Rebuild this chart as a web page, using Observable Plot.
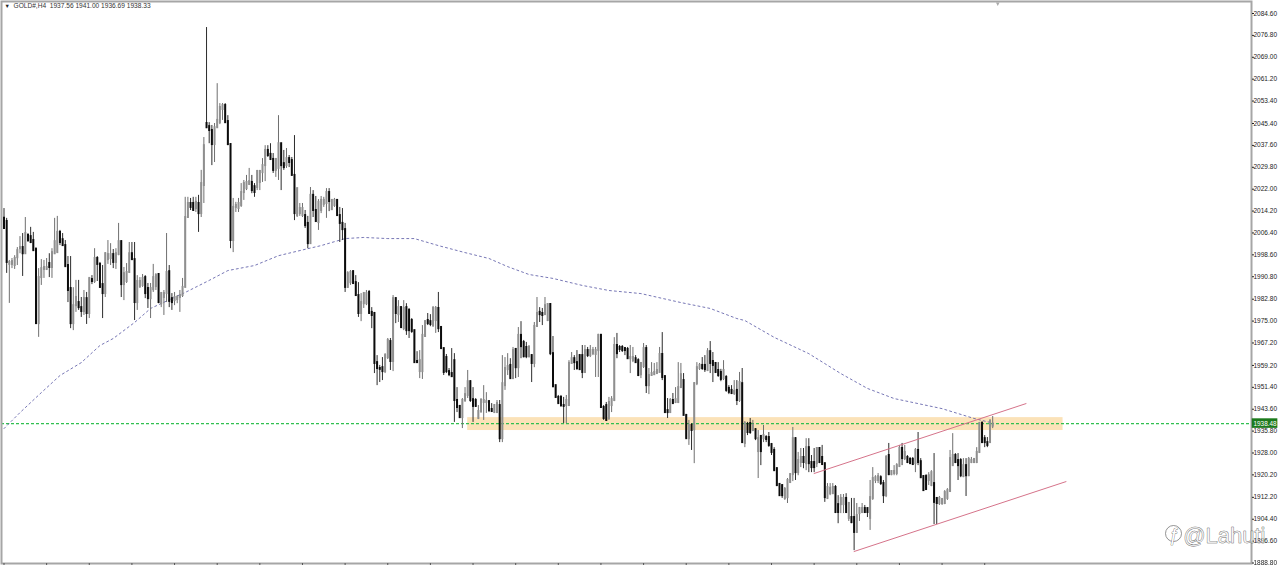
<!DOCTYPE html>
<html>
<head>
<meta charset="utf-8">
<style>html,body{margin:0;padding:0;background:#fff;overflow:hidden}svg{display:block;filter:blur(0.3px)}</style>
<script src="https://cdn.jsdelivr.net/npm/d3@7"></script>
<script src="https://cdn.jsdelivr.net/npm/@observablehq/plot@0.6"></script>
</head>
<body>
<div id="chart"></div>
<script>
const opens = [
2011.6,2010.5,1995.2,1995.2,1994.8,1997.6,2000.8,2001.2,1999.0,2005.5,
2005.1,2003.7,2000.5,1974.1,1990.5,1993.4,1993.4,1995.5,1994.1,1999.0,
1999.4,2006.6,2004.0,2001.9,1994.8,1986.6,1974.1,1980.5,1981.6,1979.8,
1978.4,1983.0,1977.7,1989.8,1989.1,1997.3,1995.2,1988.0,1984.8,1996.9,
1997.3,1998.7,1995.9,1998.7,2003.3,1988.0,1989.1,1992.3,1999.0,1996.9,
1981.6,1987.3,1987.7,1990.5,1986.6,1983.0,1986.2,1987.3,1991.6,1981.2,
1983.4,1984.8,1992.6,1983.0,1982.3,1982.7,1983.4,1984.1,1987.0,2011.9,
2016.9,2016.9,2015.1,2016.9,2013.3,2023.3,2045.4,2044.3,2042.9,2037.9,
2043.9,2045.7,2050.4,2051.8,2046.1,2037.9,2003.7,2015.5,2015.1,2016.2,
2020.8,2022.2,2023.7,2024.4,2022.9,2022.6,2024.4,2027.9,2030.4,2035.8,
2034.4,2032.6,2028.7,2029.4,2038.2,2031.1,2030.4,2032.9,2032.2,2026.9,
2012.6,2013.3,2012.6,2012.6,2009.8,2002.6,2019.8,2014.4,2010.1,2014.4,
2016.6,2016.9,2020.8,2014.7,2016.2,2018.0,2012.6,2009.8,2007.6,1987.0,
1988.7,1992.6,1988.7,1984.1,1977.7,1981.2,1981.2,1985.2,1978.1,1977.7,
1960.2,1958.1,1958.4,1957.0,1962.0,1967.7,1960.6,1983.0,1977.3,1979.8,
1972.3,1979.8,1978.8,1975.2,1971.6,1960.6,1957.0,1957.0,1969.5,1975.2,
1974.8,1973.4,1975.2,1979.5,1972.7,1965.2,1962.0,1957.0,1956.3,1960.9,
1946.7,1944.6,1940.6,1946.7,1948.5,1953.4,1947.0,1946.7,1940.3,1942.8,
1946.0,1946.0,1946.3,1943.5,1942.4,1942.4,1944.9,1933.1,1952.0,1957.7,
1959.2,1954.5,1964.9,1958.4,1969.9,1967.4,1965.6,1962.3,1962.7,1959.9,
1973.1,1978.1,1977.7,1977.3,1975.2,1980.9,1963.4,1952.0,1947.8,1947.8,
1944.9,1944.9,1944.9,1959.9,1961.6,1960.2,1962.7,1962.7,1956.7,1964.5,
1962.7,1963.4,1963.1,1964.5,1969.9,1944.2,1944.9,1940.3,1944.9,1946.7,
1966.3,1965.6,1965.6,1965.2,1964.9,1961.6,1960.9,1961.6,1960.9,1955.9,
1958.8,1965.2,1952.0,1955.6,1955.9,1956.3,1956.7,1963.1,1955.2,1943.1,
1942.4,1946.7,1946.0,1946.0,1951.3,1953.8,1941.4,1933.1,1937.8,1936.3,
1952.7,1958.1,1959.2,1959.2,1957.4,1964.1,1960.6,1959.9,1957.4,1956.7,
1954.5,1954.9,1951.0,1950.3,1949.2,1950.3,1946.7,1952.7,1931.4,1938.2,
1938.5,1936.0,1936.3,1928.5,1933.9,1933.1,1933.5,1933.5,1931.0,1928.9,
1922.4,1916.8,1916.4,1911.8,1912.1,1917.5,1920.3,1933.1,1921.0,1924.6,
1926.4,1924.2,1929.9,1924.6,1924.6,1924.2,1929.6,1926.4,1924.2,1911.8,
1913.5,1913.5,1915.7,1909.6,1909.6,1909.6,1911.8,1904.7,1905.0,1905.0,
1899.7,1906.4,1906.8,1908.2,1908.2,1904.7,1911.8,1918.2,1918.2,1919.2,
1917.1,1912.8,1927.1,1920.3,1920.7,1920.7,1923.2,1929.6,1926.0,1926.4,
1925.7,1925.7,1924.2,1928.9,1924.9,1919.6,1919.6,1918.2,1916.4,1917.1,
1911.8,1910.0,1910.0,1910.0,1911.8,1914.3,1923.5,1927.1,1925.3,1925.3,
1919.6,1923.5,1919.9,1924.6,1924.6,1924.6,1928.2,1938.5,1933.1,1931.7,
1931.7,1937.56];
const highs = [
2015.1,2011.6,1996.6,1997.3,1998.3,2001.2,2005.1,2006.2,2011.9,2006.2,
2008.4,2006.6,2001.2,1993.7,1996.9,1996.6,1997.3,1999.0,2000.8,2011.6,
2012.3,2007.3,2006.2,2003.7,1998.0,1998.0,1986.9,1989.5,1989.5,1983.4,
1985.9,1985.2,1990.2,1991.2,2000.8,1998.0,1995.9,1994.8,1999.4,2003.7,
2002.6,2000.5,2000.8,2009.8,2003.7,1994.1,1995.5,2003.0,2003.0,2003.0,
1991.2,1990.5,1991.6,1991.2,1988.4,1988.4,1995.2,1991.9,1991.9,1985.2,
1985.9,2006.2,1994.8,1984.8,1985.2,1984.1,1985.9,1990.2,2019.1,2019.1,
2018.7,2019.1,2019.1,2019.8,2028.7,2040.4,2079.6,2045.7,2044.7,2045.4,
2059.6,2052.5,2052.5,2052.5,2048.2,2038.2,2018.7,2017.3,2018.7,2024.0,
2025.1,2026.9,2029.4,2026.9,2024.0,2028.7,2028.7,2032.9,2037.5,2037.5,
2038.2,2034.7,2032.9,2048.2,2038.2,2035.8,2036.5,2034.0,2033.3,2041.1,
2022.2,2016.9,2016.9,2014.4,2012.3,2022.6,2021.5,2019.4,2018.3,2019.4,
2019.1,2022.2,2022.2,2018.3,2018.7,2018.3,2015.5,2015.1,2009.8,1992.6,
1993.0,1993.0,1991.2,1988.7,1984.8,1985.2,1985.9,1985.9,1979.8,1978.1,
1962.7,1959.2,1962.0,1963.4,1968.8,1968.8,1984.1,1983.4,1982.3,1980.2,
1982.3,1981.2,1979.5,1975.9,1971.6,1964.1,1964.5,1973.4,1975.2,1977.7,
1977.3,1980.2,1980.2,1985.2,1973.1,1965.2,1963.1,1958.1,1965.2,1963.4,
1951.3,1944.9,1947.4,1951.3,1957.4,1953.8,1951.3,1947.4,1944.9,1947.4,
1952.0,1949.5,1946.7,1945.6,1945.2,1946.7,1946.7,1962.7,1962.0,1963.4,
1961.6,1965.6,1965.2,1972.7,1974.8,1968.1,1967.4,1966.3,1963.1,1974.5,
1983.4,1979.8,1979.5,1983.4,1980.9,1981.2,1969.5,1952.0,1948.5,1948.5,
1947.8,1948.5,1960.9,1963.8,1962.7,1964.5,1963.1,1966.3,1966.3,1965.6,
1966.3,1965.6,1965.6,1970.3,1970.3,1944.9,1946.0,1947.8,1948.1,1969.1,
1970.6,1966.3,1966.3,1965.6,1965.6,1966.3,1965.6,1962.7,1961.6,1960.2,
1967.0,1966.3,1958.1,1960.2,1959.9,1960.2,1965.6,1970.9,1955.6,1947.4,
1947.4,1949.2,1951.3,1960.2,1959.9,1956.3,1941.4,1939.6,1938.5,1953.1,
1960.2,1959.9,1962.0,1962.7,1965.2,1967.7,1963.8,1960.2,1960.2,1957.8,
1960.9,1955.6,1952.0,1952.0,1953.8,1953.8,1956.7,1958.1,1939.2,1938.9,
1940.3,1939.6,1936.7,1936.0,1934.2,1937.8,1934.2,1935.3,1931.4,1929.9,
1922.8,1917.1,1916.4,1915.7,1918.9,1920.7,1937.1,1933.5,1928.2,1929.6,
1929.6,1933.1,1933.1,1927.1,1929.6,1929.9,1929.9,1930.7,1924.2,1917.1,
1917.1,1917.1,1916.4,1912.8,1913.2,1913.2,1913.5,1910.4,1911.8,1911.8,
1910.0,1908.6,1910.0,1909.3,1908.2,1918.2,1922.8,1919.9,1920.7,1919.9,
1918.2,1927.1,1931.4,1921.7,1923.5,1924.2,1930.7,1931.4,1930.7,1927.1,
1926.4,1926.4,1929.6,1935.3,1926.0,1919.9,1920.3,1921.0,1921.7,1927.8,
1912.1,1912.5,1911.8,1914.6,1915.3,1928.9,1934.9,1927.8,1927.8,1926.0,
1926.0,1926.0,1926.4,1926.4,1926.0,1929.9,1938.9,1939.2,1934.2,1933.5,
1939.9,1941.00];
const lows = [
2008.0,1992.0,1981.3,1993.7,1993.4,1994.8,1999.0,1990.9,1999.0,2003.0,
2002.6,2000.1,1973.8,1969.2,1987.7,1990.2,1993.0,1990.5,1990.2,1998.7,
1999.4,2001.9,2001.6,1994.4,1981.6,1972.3,1971.6,1978.1,1978.8,1976.3,
1977.0,1973.8,1975.9,1988.0,1988.4,1989.1,1986.6,1975.9,1983.4,1995.2,
1994.8,1993.7,1993.4,1998.3,1983.4,1982.3,1988.4,1992.3,1996.6,1975.2,
1978.8,1986.6,1987.0,1983.0,1979.5,1975.9,1985.2,1985.9,1981.2,1979.8,
1977.0,1981.6,1979.8,1978.8,1980.5,1981.2,1978.1,1983.4,1987.0,2011.6,
2014.4,2014.4,2013.7,2006.6,2011.9,2016.9,2043.6,2038.2,2030.4,2031.5,
2043.9,2045.0,2046.5,2045.4,2037.5,2000.8,1999.4,2013.7,2013.7,2015.5,
2018.0,2021.5,2023.3,2020.4,2019.1,2021.5,2021.5,2024.4,2024.7,2033.3,
2032.2,2027.6,2026.2,2025.1,2021.5,2028.7,2029.4,2029.7,2026.9,2010.8,
2011.9,2012.3,2011.9,2008.0,2000.8,2002.3,2011.9,2010.1,2007.3,2013.3,
2015.5,2011.6,2014.0,2014.4,2015.5,2012.3,2003.0,2003.7,1985.2,1986.6,
1987.7,1988.0,1983.8,1976.3,1974.8,1979.5,1980.5,1977.7,1972.3,1956.3,
1952.0,1953.1,1953.8,1956.3,1961.3,1957.4,1957.0,1974.1,1974.5,1972.3,
1971.6,1969.9,1968.8,1970.6,1959.9,1959.9,1954.5,1954.2,1969.2,1973.4,
1973.0,1972.7,1970.6,1970.9,1965.2,1955.6,1956.3,1955.2,1954.9,1938.9,
1942.4,1940.3,1936.7,1946.0,1947.4,1946.0,1938.9,1944.2,1939.9,1942.1,
1939.6,1942.1,1942.4,1942.4,1942.1,1942.1,1931.7,1931.7,1950.3,1955.6,
1954.5,1954.2,1954.5,1954.9,1961.6,1961.9,1961.6,1961.9,1953.1,1958.4,
1972.7,1974.5,1973.4,1977.0,1974.8,1962.7,1951.3,1947.4,1945.6,1944.2,
1938.5,1938.5,1944.9,1959.9,1957.4,1957.4,1957.4,1954.5,1956.3,1962.0,
1962.0,1962.7,1954.9,1954.9,1944.2,1939.6,1939.2,1939.6,1942.4,1946.3,
1961.6,1963.8,1963.8,1962.7,1961.6,1956.3,1960.2,1959.9,1955.2,1954.5,
1958.1,1949.2,1948.8,1955.6,1955.6,1956.3,1956.7,1953.8,1942.1,1940.3,
1942.1,1945.6,1945.6,1945.6,1951.0,1941.4,1933.1,1930.7,1928.9,1924.2,
1952.0,1957.4,1957.4,1956.7,1957.0,1956.3,1953.1,1956.3,1954.9,1953.4,
1953.8,1949.6,1948.8,1948.8,1948.5,1944.9,1946.0,1931.4,1929.9,1934.2,
1934.6,1935.6,1932.4,1918.9,1923.5,1931.7,1931.7,1930.0,1927.1,1921.7,
1916.0,1912.5,1911.8,1911.1,1910.0,1917.1,1917.8,1918.2,1919.9,1922.8,
1922.4,1921.7,1921.0,1921.0,1921.0,1922.8,1924.2,1923.5,1910.4,1911.4,
1912.8,1913.2,1906.4,1902.8,1906.4,1906.4,1906.4,1903.6,1902.8,1893.2,
1899.3,1903.6,1906.4,1906.4,1905.0,1900.4,1911.1,1917.1,1917.1,1916.4,
1910.0,1912.1,1919.9,1919.9,1919.9,1919.9,1922.8,1923.5,1925.3,1924.2,
1923.9,1923.5,1921.0,1923.5,1918.9,1914.3,1914.6,1916.4,1916.0,1902.5,
1902.5,1909.3,1909.3,1909.6,1911.1,1913.9,1923.2,1924.2,1918.2,1919.2,
1919.2,1912.5,1919.6,1924.2,1924.2,1924.2,1927.8,1931.4,1929.9,1929.9,
1931.7,1936.69];
const closes = [
2008.0,1995.9,1995.9,1996.2,1997.3,2000.1,2001.2,1999.0,2006.2,2003.7,
2003.0,2000.1,1974.1,1990.5,1993.7,1994.1,1994.1,1994.1,1999.4,2003.3,
2006.6,2003.0,2001.9,1994.4,1985.9,1974.1,1980.5,1983.4,1979.8,1978.4,
1983.0,1977.7,1990.2,1989.1,1997.3,1995.2,1987.0,1984.8,1999.0,1998.7,
1998.7,1995.9,1999.0,2003.3,1988.0,1991.9,1992.3,1999.0,1996.9,1981.6,
1989.1,1989.1,1990.2,1984.8,1983.0,1986.6,1990.5,1991.2,1981.6,1984.8,
1984.8,1992.3,1982.0,1981.6,1983.4,1983.4,1984.1,1987.0,2011.9,2016.9,
2015.5,2014.4,2017.3,2013.3,2024.0,2037.5,2043.9,2042.9,2037.9,2043.9,
2046.5,2051.1,2051.8,2045.7,2037.9,2003.7,2015.5,2016.2,2016.9,2020.8,
2024.0,2024.4,2024.7,2021.5,2020.8,2028.3,2028.3,2030.4,2035.8,2034.0,
2032.6,2028.7,2032.6,2038.2,2030.4,2029.7,2032.9,2031.5,2026.9,2013.3,
2022.2,2015.1,2015.1,2009.0,2002.6,2019.8,2014.4,2010.5,2017.3,2018.0,
2018.0,2020.8,2017.6,2018.0,2018.0,2012.6,2009.8,2007.6,1987.0,1991.9,
1992.3,1988.4,1984.1,1977.7,1981.6,1984.8,1984.8,1977.7,1977.0,1959.9,
1958.1,1957.8,1957.0,1962.7,1968.1,1960.6,1983.0,1977.7,1979.8,1972.7,
1979.5,1971.6,1971.6,1971.3,1960.2,1960.2,1960.9,1969.9,1974.8,1974.1,
1973.8,1979.5,1979.5,1972.3,1965.2,1956.7,1957.0,1955.9,1955.2,1946.7,
1944.2,1940.6,1946.7,1948.8,1953.4,1946.7,1944.6,1944.6,1942.8,1946.7,
1946.7,1946.3,1943.1,1942.8,1944.9,1945.6,1933.1,1952.7,1958.1,1958.8,
1954.5,1964.5,1958.4,1969.9,1965.9,1962.3,1962.3,1965.6,1959.9,1973.1,
1977.7,1977.3,1977.0,1980.5,1980.9,1963.4,1951.6,1947.8,1945.6,1944.9,
1944.6,1946.7,1959.9,1961.6,1960.2,1958.1,1957.7,1956.7,1964.5,1962.7,
1964.5,1964.5,1964.5,1969.9,1944.2,1940.3,1939.6,1946.0,1947.0,1966.3,
1963.4,1964.9,1964.5,1964.5,1961.6,1962.0,1962.0,1960.2,1955.6,1959.9,
1965.2,1952.0,1955.6,1956.3,1956.7,1957.4,1963.1,1954.9,1942.4,1942.4,
1946.7,1945.6,1947.0,1951.3,1955.9,1941.4,1933.1,1937.8,1936.0,1952.7,
1958.4,1959.2,1958.1,1957.7,1964.1,1959.9,1959.2,1956.7,1955.6,1954.2,
1957.4,1950.3,1949.6,1949.2,1949.9,1946.7,1953.1,1931.7,1938.5,1935.3,
1935.3,1937.8,1933.1,1933.1,1928.5,1934.2,1932.8,1930.7,1928.2,1921.7,
1916.4,1912.8,1912.8,1915.0,1918.2,1920.3,1933.1,1921.0,1925.3,1926.4,
1924.6,1929.9,1924.2,1922.8,1922.8,1929.6,1924.6,1923.9,1912.1,1915.7,
1915.4,1915.7,1906.8,1906.8,1911.8,1911.8,1906.8,1910.0,1903.2,1899.7,
1905.7,1908.2,1908.2,1906.8,1906.8,1912.1,1918.9,1919.2,1919.6,1917.1,
1912.8,1926.4,1920.3,1921.4,1921.4,1923.5,1929.6,1926.0,1928.2,1924.6,
1924.2,1923.9,1928.9,1924.6,1919.2,1914.6,1915.0,1919.9,1921.0,1910.4,
1910.0,1911.8,1911.4,1913.9,1914.6,1926.0,1927.1,1924.6,1923.5,1919.9,
1923.5,1919.9,1925.7,1925.3,1925.7,1928.2,1938.5,1931.7,1931.7,1930.7,
1939.2,1938.33];

const maBars = [0,6,14,21,29,36,41,49,55,68,77,84,94,103,114,119,128,135,144,154,163,173,182,189,197,206,217,227,239,254,265,275,278,289,302,314,324,334,352,364,370];
const maValues = [1936.7,1942.4,1949.5,1955.6,1960.2,1966.3,1968.8,1974.5,1979.5,1985.2,1989.5,1993.0,1994.8,1998.3,2000.8,2001.9,2004.4,2004.8,2004.4,2004.4,2001.9,1999.4,1997.3,1994.4,1991.6,1990.2,1987.7,1985.9,1984.8,1981.6,1979.5,1975.9,1975.2,1969.2,1963.4,1956.3,1951.0,1947.4,1943.8,1940.3,1938.9];

const yTicks = [2084.60,2076.80,2069.00,2061.20,2053.40,2045.40,2037.60,2029.80,2022.00,2014.20,2006.40,1998.60,1990.80,1982.80,1975.00,1967.20,1959.20,1951.40,1943.60,1935.80,1928.00,1920.20,1912.20,1904.40,1896.60,1888.80];
const xTicks = [0,16,32,48,64,80,96,112,128,144,160,176,192,208,224,240,256,272,288,304,320,336,352,368];

const bidPrice = 1938.48;
const zoneBars = [174, 397.4];
const zonePrices = [1936.0, 1940.6];
const channelBars = [304, 383.5, 319, 398.5];
const channelPrices = [1920.7, 1945.6, 1892.9, 1917.8];
const priceTagBars = [468.4, 478];
const title = "GOLD#,H4  1937.56 1941.00 1936.69 1938.33";
const watermark = "@Lahuti";

const bars = opens.map((o, i) => ({i, o, h: highs[i], l: lows[i], c: closes[i], up: closes[i] >= o}));
const maLine = maBars.map((b, k) => ({b, v: maValues[k]}));
const font = "'Liberation Sans', sans-serif";

const chart = Plot.plot({
  width: 1280,
  height: 566,
  marginLeft: 1,
  marginTop: 1,
  marginRight: 29,
  marginBottom: 3,
  style: {background: "#fff", fontFamily: font, overflow: "visible"},
  x: {type: "linear", domain: [0, 371], range: [3.5, 992.2], axis: null},
  y: {type: "linear", domain: [1888.8, 2084.6], range: [562.5, 13], axis: null},
  marks: [
    Plot.rect([0], {x1: () => zoneBars[0], x2: () => zoneBars[1], y1: () => zonePrices[0], y2: () => zonePrices[1], fill: "#fbe2b8"}),
    Plot.ruleY([bidPrice], {stroke: "#30c050", strokeWidth: 1.2, strokeDasharray: "3,2"}),
    Plot.line(maLine, {x: "b", y: "v", stroke: "#4a4a9c", strokeWidth: 0.75, strokeDasharray: "2,3", curve: "linear"}),
    Plot.ruleX(bars, {x: "i", y1: "l", y2: "h", stroke: d => d.up ? "#6f6f6f" : "#2c2c2c", strokeWidth: 1}),
    Plot.ruleX(bars, {x: "i", y1: "o", y2: "c", stroke: d => d.up ? "#8f8f8f" : "#0c0c0c", strokeWidth: 2, strokeLinecap: "square"}),
    Plot.line([0, 1], {x: k => channelBars[k], y: k => channelPrices[k], stroke: "#d5738a", strokeWidth: 1}),
    Plot.line([2, 3], {x: k => channelBars[k], y: k => channelPrices[k], stroke: "#d5738a", strokeWidth: 1}),
    Plot.frame({stroke: "#a6a6a6", strokeWidth: 2}),
    Plot.axisY({anchor: "right", ticks: yTicks, tickFormat: d => d.toFixed(2), tickSize: 2, tickPadding: 0, fontSize: 6.5, stroke: "#222", color: "#222", label: null}),
    Plot.axisX({anchor: "bottom", ticks: xTicks, tickFormat: () => "", tickSize: 2, stroke: "#555", label: null}),
    Plot.rect([0], {x1: () => priceTagBars[0], x2: () => priceTagBars[1], y1: () => bidPrice - 1.7, y2: () => bidPrice + 1.7, fill: "#1c7a1c"}),
    Plot.text([bidPrice.toFixed(2)], {x: () => (priceTagBars[0] + priceTagBars[1]) / 2, y: () => bidPrice, text: d => d, fill: "#fff", fontSize: 6.4}),
    Plot.text(["▼"], {frameAnchor: "top-left", dx: 3, dy: 3, fontSize: 5.5, fill: "#222"}),
    Plot.text([title], {frameAnchor: "top-left", dx: 12, dy: 1.5, fontSize: 6.6, fill: "#333", textAnchor: "start"}),
    Plot.text(["▾"], {frameAnchor: "top-right", dx: -252, dy: 0, fontSize: 7, fill: "#aaa"}),
    Plot.dot([0], {frameAnchor: "bottom-right", dx: -78, dy: -30, r: 8, stroke: "#666", strokeWidth: 0.7, fill: "none"}),
    Plot.text(["ƒ"], {frameAnchor: "bottom-right", dx: -78, dy: -23, fontSize: 18, fill: "#fff", stroke: "#444", strokeWidth: 0.6, textAnchor: "middle", fontStyle: "italic"}),
    Plot.text([watermark], {frameAnchor: "bottom-right", dx: 14, dy: -21, fontSize: 22, fill: "#fff", fillOpacity: 0.55, stroke: "#444", strokeWidth: 0.5, textAnchor: "end"})
  ]
});
document.getElementById("chart").append(chart);
</script>
</body>
</html>
